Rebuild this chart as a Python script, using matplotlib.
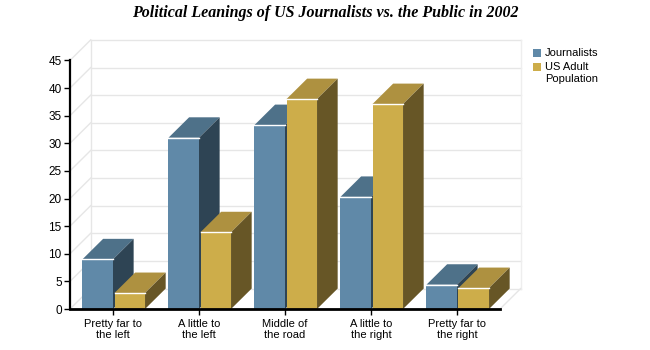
import matplotlib.pyplot as plt
from matplotlib.patches import Polygon

categories = ["Pretty far to\nthe left", "A little to\nthe left", "Middle of\nthe road",
              "A little to\nthe right", "Pretty far to\nthe right"]
journalists = [9, 31, 33.3, 20.3, 4.4]
us_adults = [2.9, 13.9, 38, 37.1, 3.8]
yticks = list(range(0, 46, 5))

blue = {'front': '#6089a8', 'top': '#4e7189', 'side': '#2e4454'}
gold = {'front': '#cdad4a', 'top': '#ae9140', 'side': '#675626'}

# depth offset of the pseudo 3d look, in data units
DX = 0.24
DY = 3.7
W = 0.355


def bar3d(ax, x0, h, cols):
    x1 = x0 + W
    ax.add_patch(Polygon([(x0, 0), (x1, 0), (x1, h), (x0, h)], closed=True,
                         facecolor=cols['front'], edgecolor='none', zorder=3, clip_on=False))
    ax.add_patch(Polygon([(x0, h), (x1, h), (x1 + DX, h + DY), (x0 + DX, h + DY)], closed=True,
                         facecolor=cols['top'], edgecolor='none', zorder=3, clip_on=False))
    ax.add_patch(Polygon([(x1, 0), (x1 + DX, DY), (x1 + DX, h + DY), (x1, h)], closed=True,
                         facecolor=cols['side'], edgecolor='none', zorder=3, clip_on=False))
    ax.plot([x0, x1], [h, h], color='white', lw=1, zorder=4, clip_on=False)


fig = plt.figure(figsize=(6.5, 3.5), dpi=100)
ax = fig.add_axes([70 / 650, 41 / 350, 430 / 650, 248.6 / 350])
ax.set_xlim(-0.5, 4.5)
ax.set_ylim(0, 45)

# back wall, side wall and floor lines
grid_c = '#e6e6e6'
for v in yticks:
    ax.plot([-0.5 + DX, 4.5 + DX], [v + DY, v + DY], color=grid_c, lw=1, zorder=1, clip_on=False)
    ax.plot([-0.5, -0.5 + DX], [v, v + DY], color=grid_c, lw=1, zorder=1, clip_on=False)
ax.plot([-0.5 + DX, -0.5 + DX], [DY, 45 + DY], color=grid_c, lw=1, zorder=1, clip_on=False)
ax.plot([4.5 + DX, 4.5 + DX], [DY, 45 + DY], color='#eeeeee', lw=1, zorder=1, clip_on=False)
ax.plot([4.5, 4.5 + DX], [0, DY], color=grid_c, lw=1, zorder=1, clip_on=False)

gap = 1.5 / 86
for i in range(len(categories)):
    bar3d(ax, i - W, journalists[i], blue)
    bar3d(ax, i + gap, us_adults[i], gold)

for s in ['top', 'right']:
    ax.spines[s].set_visible(False)
ax.spines['left'].set_linewidth(1.6)
ax.spines['bottom'].set_linewidth(2)
ax.spines['left'].set_zorder(5)
ax.spines['bottom'].set_zorder(5)
ax.set_xticks(range(len(categories)))
ax.set_xticklabels(categories, fontsize=8, family='Liberation Sans', linespacing=1.2)
ax.set_yticks(yticks)
ax.set_yticklabels([str(v) for v in yticks], fontsize=8.5, family='Liberation Sans')
ax.tick_params(axis='y', length=4, width=1, pad=2)
ax.tick_params(axis='x', length=4, width=1, pad=3)

fig.text(0.5, 0.962, "Political Leanings of US Journalists vs. the Public in 2002",
         ha='center', va='center', family='Liberation Serif', style='italic',
         weight='bold', fontsize=11.5)

# legend
fig.patches.append(Polygon([(533 / 650, 1 - 49 / 350), (541 / 650, 1 - 49 / 350),
                            (541 / 650, 1 - 57 / 350), (533 / 650, 1 - 57 / 350)],
                           closed=True, transform=fig.transFigure, facecolor=blue['front']))
fig.patches.append(Polygon([(533 / 650, 1 - 63 / 350), (541 / 650, 1 - 63 / 350),
                            (541 / 650, 1 - 71 / 350), (533 / 650, 1 - 71 / 350)],
                           closed=True, transform=fig.transFigure, facecolor=gold['front']))
fig.text(545 / 650, 1 - 53 / 350, "Journalists", va='center', fontsize=8, family='Liberation Sans')
fig.text(545 / 650, 1 - 67 / 350, "US Adult", va='center', fontsize=8, family='Liberation Sans')
fig.text(545 / 650, 1 - 79 / 350, "Population", va='center', fontsize=8, family='Liberation Sans')

fig.savefig("out.png", dpi=100)
